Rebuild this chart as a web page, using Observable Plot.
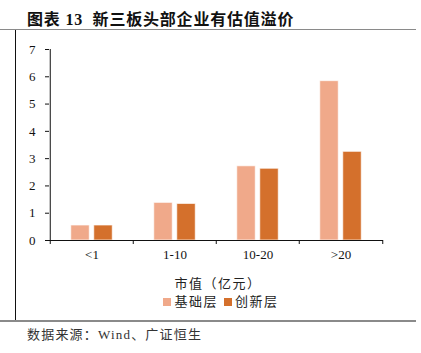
<!DOCTYPE html>
<html>
<head>
<meta charset="utf-8">
<script src="https://cdn.jsdelivr.net/npm/d3@7"></script>
<script src="https://cdn.jsdelivr.net/npm/@observablehq/plot@0.6"></script>
<style>
  html, body { margin: 0; padding: 0; background: #fff; }
  body { width: 421px; height: 353px; position: relative; overflow: hidden; }
  .title { position: absolute; left: 27px; top: 6px; font-family: "Liberation Serif", "Noto Sans CJK SC", serif; font-weight: bold; font-size: 16px; letter-spacing: 0.8px; color: #111; white-space: nowrap; }
  .hline { position: absolute; left: 0; width: 416px; height: 1.5px; background: #8a8a8a; }
  .vline { position: absolute; left: 15px; top: 30px; width: 1px; height: 290px; background: #111; }
  #chart { position: absolute; left: 16px; top: 30px; }
  .xtitle { position: absolute; left: 0; width: 436px; top: 273px; text-align: center; font-family: "Noto Sans CJK SC", sans-serif; font-size: 13px; letter-spacing: 1.5px; color: #222; }
  .legend { position: absolute; left: 0; width: 442px; top: 291px; text-align: center; font-family: "Noto Sans CJK SC", sans-serif; font-size: 13px; letter-spacing: 1.5px; color: #222; }
  .legend span.sw { display: inline-block; width: 8px; height: 8px; margin-right: 3px; vertical-align: 0px; }
  .legend span.item { margin: 0 3px; }
  .source { position: absolute; left: 27px; top: 324px; font-family: "Liberation Serif", "Noto Sans CJK SC", serif; font-size: 13px; letter-spacing: 1.2px; color: #333; white-space: nowrap; }
</style>
</head>
<body>
<div class="title">图表 13&nbsp; 新三板头部企业有估值溢价</div>
<div class="hline" style="top:28.5px"></div>
<div class="vline"></div>
<div id="chart"></div>
<div class="xtitle">市值（亿元）</div>
<div class="legend" id="legend"></div>
<div class="hline" style="top:320px"></div>
<div class="source">数据来源：Wind、广证恒生</div>
<script>
const categories = ["<1", "1-10", "10-20", ">20"];
const seriesNames = ["基础层", "创新层"];
const basicValues = [0.55, 1.38, 2.72, 5.84];
const innovValues = [0.55, 1.34, 2.63, 3.25];
const yTicks = [0, 1, 2, 3, 4, 5, 6, 7];
const colors = ["#F0A98A", "#D4702C"];

const data = categories.flatMap((c, i) => [
  {cat: c, series: seriesNames[0], value: basicValues[i]},
  {cat: c, series: seriesNames[1], value: innovValues[i]}
]);

const W = 400, H = 240, mL = 33, mR = 33, mT = 19, mB = 30;
const bw = (W - mL - mR) / categories.length;
const barW = 19, gap = 4;
const outer = bw / 2 - gap / 2 - barW;
const inner = bw / 2 + gap / 2;

const chart = Plot.plot({
  width: W, height: H,
  marginLeft: mL, marginRight: mR, marginTop: mT, marginBottom: mB,
  style: {fontFamily: "'Liberation Serif', serif", fontSize: "13px", color: "#111", background: "transparent"},
  x: {domain: categories, padding: 0},
  y: {domain: [0, 7]},
  color: {domain: seriesNames, range: colors},
  marks: [
    Plot.barY(data.filter(d => d.series === seriesNames[0]), {x: "cat", y: "value", fill: "series", insetLeft: outer, insetRight: inner, stroke: "#fff", strokeOpacity: 0.7, strokeWidth: 1}),
    Plot.barY(data.filter(d => d.series === seriesNames[1]), {x: "cat", y: "value", fill: "series", insetLeft: inner, insetRight: outer, stroke: "#fff", strokeOpacity: 0.7, strokeWidth: 1}),
    Plot.axisY({ticks: yTicks, tickSize: 4, tickPadding: 10, tickFormat: d => d, label: null, stroke: "#111"}),
    Plot.axisX({tickSize: 0, tickPadding: 9, label: null}),
    Plot.ruleY([0], {stroke: "#111"}),
    Plot.ruleX([categories[0]], {x: d => d, y1: 0, y2: 7, dx: -bw / 2, stroke: "#111"}),
    Plot.ruleX(categories, {x: d => d, y1: 0, y2: 0, insetBottom: -4, dx: -bw / 2, stroke: "#111"}),
    Plot.ruleX([categories[categories.length - 1]], {x: d => d, y1: 0, y2: 0, insetBottom: -4, dx: bw / 2, stroke: "#111"})
  ]
});
document.getElementById("chart").appendChild(chart);

const legend = document.getElementById("legend");
seriesNames.forEach((s, i) => {
  const item = document.createElement("span");
  item.className = "item";
  const sw = document.createElement("span");
  sw.className = "sw";
  sw.style.background = colors[i];
  item.appendChild(sw);
  item.appendChild(document.createTextNode(s));
  legend.appendChild(item);
});
</script>
</body>
</html>
